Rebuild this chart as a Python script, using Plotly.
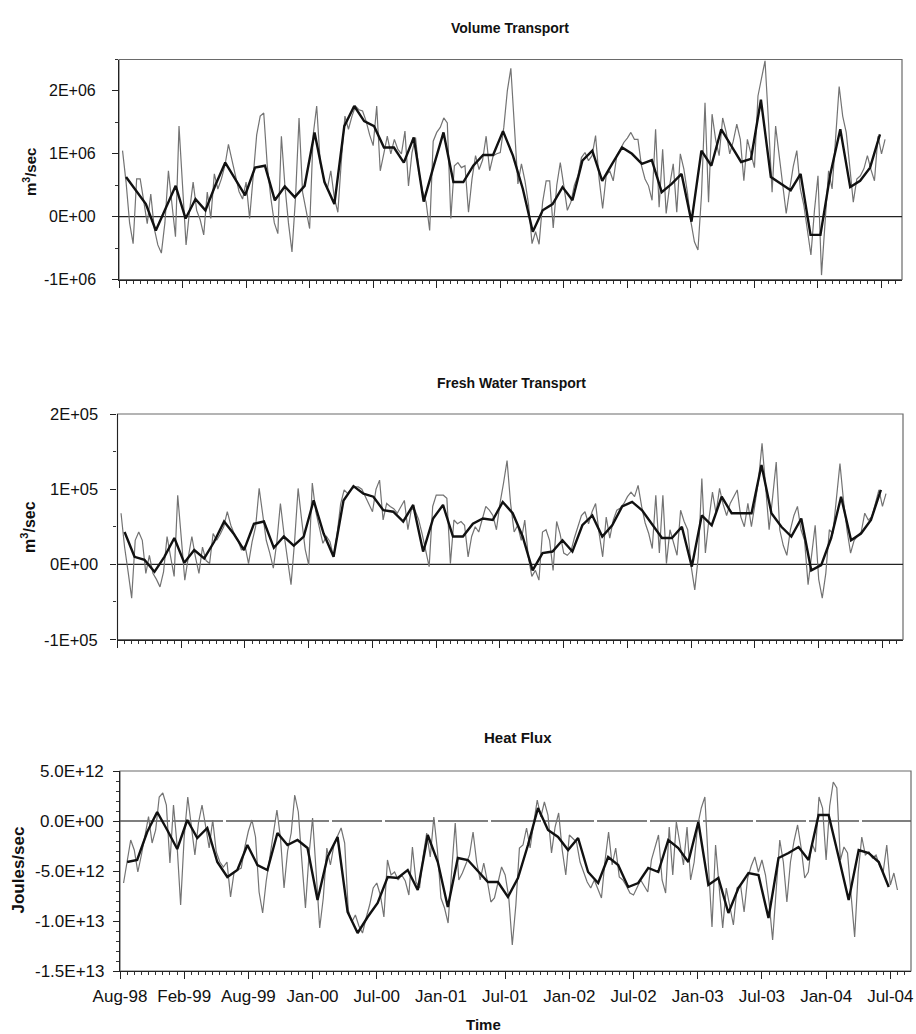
import numpy as np
import plotly.graph_objects as go

FONT = "Liberation Sans, Arial, sans-serif"

# Axis labels placed every 18 ten-day samples (about half a year)
time_labels = ["Aug-98", "Feb-99", "Aug-99", "Jan-00", "Jul-00", "Jan-01", "Jul-01",
               "Jan-02", "Jul-02", "Jan-03", "Jul-03", "Jan-04", "Jul-04"]
SAMPLES_PER_LABEL = 18

# Volume transport, 10-day samples (units of 1E6 m3/s)
volume_10day = [
    1.05, 0.55, -0.1, -0.43, 0.6, 0.6, 0.25, -0.11, 0.36, -0.19, -0.45, -0.58,
    -0.1, 0.73, 0.2, -0.32, 1.44, 0.5, -0.45, 0.1, 0.55, 0.1, -0.05, -0.29,
    0.39, -0.03, 0.68, 0.44, 0.6, 0.81, 1.15, 0.9, 0.65, 0.4, 0.28, 0.55,
    -0.03, 0.6, 1.3, 1.6, 1.65, 0.81, 0.3, -0.1, -0.27, 1.28, 0.49, -0.1,
    -0.56, 0.3, 1.57, 0.39, 0.1, -0.19, 1.3, 1.76, 0.86, 0.6, 0.44, 0.73,
    0.3, 0.07, 0.9, 1.6, 1.39, 1.6, 1.76, 1.7, 1.68, 1.52, 1.3, 1.13,
    1.76, 0.73, 1.0, 1.28, 1.0, 1.23, 1.07, 1.0, 1.36, 0.49, 1.02, 1.26,
    0.7, 0.4, 0.23, -0.22, 1.2, 1.34, 1.42, 1.57, 1.49, -0.03, 0.81, 0.86,
    0.78, 0.81, 0.07, 0.6, 0.97, 0.75, 0.9, 1.28, 0.73, 0.97, 1.0, 1.02,
    1.42, 2.0, 2.36, 1.49, 0.52, 0.84, 0.57, 0.2, -0.43, -0.24, -0.44, 0.23,
    0.57, 0.57, -0.18, 0.5, 0.86, 0.49, 0.1, 0.23, 0.5, 0.65, 0.94, 1.02,
    0.89, 0.97, 1.29, 0.6, 0.13, 0.65, 0.73, 0.57, 0.97, 1.07, 1.18, 1.25,
    1.34, 1.23, 1.23, 0.81, 0.6, 0.49, 0.26, 1.39, 0.15, 1.07, 0.05, 0.5,
    0.84, 0.07, 1.0, 0.76, 0.39, -0.08, -0.4, -0.53, 0.34, 1.81, 0.23, 1.63,
    1.23, 0.97, 1.57, 1.34, 1.0, 1.2, 1.47, 1.23, 0.57, 1.23, 1.0, 0.78,
    1.92, 2.2, 2.48, 1.49, 0.39, 1.44, 1.0, 0.49, 0.05, 0.44, 0.8, 1.05,
    0.44, 0.18, -0.2, -0.61, 0.1, 0.65, -0.93, -0.16, 0.73, 0.44, 1.2, 2.07,
    1.6, 1.34, 0.8, 0.23, 0.6, 0.65, 0.76, 0.97, 0.75, 0.57, 1.28, 1.0, 1.23,
]
# Volume transport, smoothed (units of 1E6 m3/s)
volume_smooth = [
    0.63, 0.42, 0.2, -0.22, 0.15, 0.49, -0.03, 0.28, 0.1, 0.5,
    0.86, 0.6, 0.34, 0.78, 0.81, 0.26, 0.48, 0.31, 0.49, 1.34,
    0.55, 0.2, 1.44, 1.76, 1.52, 1.44, 1.1, 1.1, 0.86, 1.26,
    0.24, 0.8, 1.34, 0.55, 0.55, 0.81, 0.98, 0.98, 1.36, 0.97,
    0.44, -0.24, 0.1, 0.2, 0.47, 0.26, 0.89, 1.05, 0.57, 0.84,
    1.1, 1.0, 0.84, 0.9, 0.39, 0.52, 0.68, -0.08, 1.05, 0.81,
    1.39, 1.13, 0.87, 0.92, 1.86, 0.63, 0.52, 0.42, 0.68, -0.29,
    -0.29, 0.68, 1.39, 0.47, 0.57, 0.78, 1.31,
]

# Fresh water transport, 10-day samples (units of 1E5 m3/s)
fresh_10day = [
    0.68, 0.23, -0.1, -0.45, 0.32, 0.43, 0.32, -0.12, 0.12, -0.12, -0.2, -0.3,
    -0.1, 0.37, 0.1, -0.16, 0.92, 0.3, -0.21, 0.1, 0.37, 0.1, -0.12, 0.23,
    0.05, 0.01, 0.41, 0.32, 0.4, 0.5, 0.7, 0.52, 0.4, 0.32, 0.19, 0.25,
    0.01, 0.3, 0.5, 1.01, 0.63, 0.32, 0.15, -0.05, 0.3, 0.81, 0.41, 0.05,
    -0.27, 0.3, 1.01, 0.59, 0.2, -0.01, 1.08, 0.7, 0.5, 0.28, 0.37, 0.3,
    0.1, 0.4, 0.8, 0.99, 0.94, 1.0, 1.03, 1.03, 1.0, 0.9, 0.8, 0.7,
    1.0, 1.12, 0.59, 0.81, 0.77, 0.74, 0.68, 0.77, 0.85, 0.46, 0.74, 0.72,
    0.6, 0.41, 0.17, -0.03, 0.77, 0.92, 0.92, 0.92, 0.88, 0.01, 0.59, 0.54,
    0.57, 0.52, 0.1, 0.37, 0.5, 0.43, 0.6, 0.77, 0.72, 0.65, 0.46, 0.81,
    1.08, 1.38, 0.81, 0.43, 0.52, 0.32, 0.59, 0.1, -0.16, -0.08, -0.21, 0.43,
    0.46, 0.32, -0.08, 0.57, 0.4, 0.15, 0.12, 0.17, 0.35, 0.5, 0.65, 0.7,
    0.54, 0.7, 0.81, 0.41, 0.1, 0.63, 0.35, 0.59, 0.72, 0.75, 0.81, 0.9,
    0.96, 0.9, 1.05, 0.77, 0.55, 0.41, 0.21, 0.92, 0.15, 0.92, 0.01, 0.46,
    0.3, 0.12, 0.72, 0.57, 0.46, -0.03, -0.34, 0.1, 1.14, 0.15, 0.6, 0.96,
    0.68, 1.01, 0.8, 0.65, 0.81, 0.9, 0.99, 0.63, 0.5, 0.81, 0.5, 0.8,
    1.12, 1.61, 1.03, 0.46, 0.9, 1.36, 0.46, 0.25, 0.12, 0.46, 0.65, 0.77,
    0.46, 0.32, -0.27, 0.1, 0.52, -0.2, -0.45, -0.12, 0.46, 0.41, 0.9, 1.34,
    0.85, 0.45, 0.15, 0.32, 0.38, 0.43, 0.68, 0.59, 0.63, 0.8, 0.99, 0.77, 0.94,
]
# Fresh water transport, smoothed (units of 1E5 m3/s)
fresh_smooth = [
    0.43, 0.1, 0.06, -0.1, 0.1, 0.35, 0.02, 0.19, 0.08, 0.3,
    0.57, 0.4, 0.19, 0.54, 0.57, 0.22, 0.37, 0.25, 0.37, 0.85,
    0.41, 0.1, 0.85, 1.04, 0.94, 0.9, 0.72, 0.7, 0.57, 0.79,
    0.17, 0.61, 0.79, 0.37, 0.37, 0.54, 0.61, 0.59, 0.83, 0.68,
    0.37, -0.08, 0.15, 0.17, 0.32, 0.17, 0.52, 0.65, 0.37, 0.52,
    0.77, 0.83, 0.72, 0.54, 0.35, 0.35, 0.5, -0.03, 0.65, 0.52,
    0.9, 0.68, 0.68, 0.68, 1.32, 0.68, 0.5, 0.37, 0.61, -0.08,
    -0.01, 0.35, 0.9, 0.32, 0.41, 0.59, 0.99,
]

# Heat flux, 10-day samples (units of 1E12 J/s)
heat_10day = [
    -6.2, -4.1, -1.9, -2.9, -5.1, -3.4, -1.4, 0.43, -2.2, -0.9, 2.4, 2.8,
    1.6, -4.2, 1.6, -2.4, -8.4, -1.6, 2.4, -0.5, -3.4, -0.2, 1.6, -0.5,
    -2.7, 0.1, -3.1, -4.1, -4.6, -4.1, -7.6, -5.1, -4.9, -4.7, -2.6, -1.0,
    0.1, -1.6, -7.1, -9.2, -6.0, -3.7, -1.4, 1.1, -1.7, -6.7, -3.0, -1.2,
    2.6, 0.9, -4.0, -8.7, -3.4, 0.3, -5.1, -10.7, -7.7, -2.7, -4.4, -2.4,
    -1.5, -0.7, -2.2, -8.9, -10.1, -9.4, -10.5, -11.2, -9.7, -8.4, -6.7, -6.2,
    -7.4, -9.6, -3.9, -5.4, -5.1, -5.9, -5.4, -6.0, -7.4, -2.6, -6.1, -6.7,
    -3.5, -1.2, -3.6, 0.4, -2.9, -7.7, -8.7, -10.2, -5.0, -0.2, -5.9, -5.2,
    -4.3, -3.4, -1.1, -4.1, -5.9, -4.2, -6.0, -8.1, -7.7, -6.0, -4.6, -5.4,
    -7.6, -12.4, -8.4, -2.7, -2.4, -0.7, -2.7, -0.2, 2.1, 0.4, 1.9, 0.6,
    -3.2, -0.6, 0.8, -2.9, -5.4, -1.4, -1.8, -2.1, -4.1, -5.0, -6.1, -6.7,
    -5.9, -6.8, -7.7, -4.0, -1.1, -4.4, -2.7, -5.6, -5.9, -6.5, -7.2, -7.4,
    -6.7, -5.9, -6.5, -7.1, -3.9, -2.6, -1.4, -5.9, -7.2, -0.6, -5.4, -0.1,
    -2.5, -4.4, -0.6, -5.9, -4.1, -0.4, 1.3, 2.4, -4.4, -10.6, -2.4, -6.4,
    -10.7, -6.7, -8.5, -10.4, -6.7, -6.4, -9.1, -5.7, -4.5, -3.6, -5.1, -3.9,
    -5.4, -8.1, -11.9, -6.7, -1.9, -4.1, -8.1, -4.1, -2.0, -0.4, -2.7, -5.7,
    -5.1, -2.2, -3.1, 2.4, 1.3, -3.9, 1.5, 3.9, 3.3, -3.9, -2.6, -3.2,
    -7.7, -11.6, -5.1, -1.6, -3.4, -3.1, -3.7, -3.4, -4.5, -5.1, -2.4, -6.4, -5.2, -6.9,
]
# Heat flux, smoothed (units of 1E12 J/s)
heat_smooth = [
    -4.1, -3.9, -1.1, 0.9, -0.9, -2.8, 0.1, -1.7, -0.7, -4.1,
    -5.6, -4.9, -2.4, -4.4, -4.9, -1.2, -2.4, -1.9, -2.7, -7.9,
    -3.6, -1.6, -9.1, -11.2, -9.6, -8.2, -5.6, -5.7, -4.9, -6.9,
    -1.4, -4.1, -8.6, -3.7, -3.9, -5.0, -6.1, -6.1, -7.6, -5.7,
    -2.4, 1.3, -0.9, -1.6, -2.9, -1.7, -5.1, -6.2, -3.6, -4.4,
    -6.6, -6.2, -4.7, -5.1, -1.9, -2.7, -4.1, -0.1, -6.4, -5.7,
    -9.2, -6.7, -5.2, -5.4, -9.7, -3.7, -3.2, -2.6, -3.9, 0.6,
    0.6, -3.6, -7.9, -2.9, -3.2, -4.1, -6.6,
]

# Smoothed series sits on a slightly coarser grid than every third sample
SMOOTH_START, SMOOTH_STEP = 2.0, 2.81
X_MAX = 221.8

W, H = 916, 1034


def px_x(v):
    return v / W


def px_y(v):
    return 1 - v / H


panels = [
    dict(thin=volume_10day, smooth=volume_smooth, scale=1e6,
         xdom=(119, 902), ydom=(59.5, 279.5), yrange=(-1e6, 2.5e6),
         yticks=[-1e6, 0, 1e6, 2e6], ytext=["-1E+06", "0E+00", "1E+06", "2E+06"],
         yminor=5e5, zero_dash="solid", zero_color="#222",
         label_size=16, label_right=98,
         title="Volume Transport", title_xy=(510, 28), title_size=14,
         ytitle="m<sup>3</sup>/sec", ytitle_xy=(30, 172), ytitle_size=15,
         labels=False),
    dict(thin=fresh_10day, smooth=fresh_smooth, scale=1e5,
         xdom=(117.5, 903), ydom=(414, 639.5), yrange=(-1e5, 2e5),
         yticks=[-1e5, 0, 1e5, 2e5], ytext=["-1E+05", "0E+00", "1E+05", "2E+05"],
         yminor=5e4, zero_dash="solid", zero_color="#222",
         label_size=16.5, label_right=100,
         title="Fresh Water Transport", title_xy=(511, 383), title_size=14,
         ytitle="m<sup>3</sup>/sec", ytitle_xy=(28, 527), ytitle_size=16,
         labels=False),
    dict(thin=heat_10day, smooth=heat_smooth, scale=1e12,
         xdom=(120, 911), ydom=(771, 971), yrange=(-1.5e13, 5e12),
         yticks=[-1.5e13, -1e13, -5e12, 0, 5e12],
         ytext=["-1.5E+13", "-1.0E+13", "-5.0E+12", "0.0E+00", "5.0E+12"],
         yminor=1e12, zero_dash="50px,3px", zero_color="#555",
         label_size=17, label_right=106,
         title="Heat Flux", title_xy=(518, 737), title_size=15,
         ytitle="Joules/sec", ytitle_xy=(17.5, 870), ytitle_size=17,
         labels=True),
]

fig = go.Figure()
annotations = []
shapes = []
label_vals = [SAMPLES_PER_LABEL * i for i in range(len(time_labels))]

for i, p in enumerate(panels, start=1):
    sx = "" if i == 1 else str(i)
    xref, yref = "x" + sx, "y" + sx

    x_thin = np.arange(1, len(p["thin"]) + 1)
    x_smooth = SMOOTH_START + SMOOTH_STEP * np.arange(len(p["smooth"]))

    fig.add_trace(go.Scatter(
        x=x_thin, y=np.array(p["thin"]) * p["scale"], mode="lines",
        line=dict(color="#737373", width=1.2), xaxis=xref, yaxis=yref,
        hoverinfo="skip"))
    fig.add_trace(go.Scatter(
        x=x_smooth, y=np.array(p["smooth"]) * p["scale"], mode="lines",
        line=dict(color="#111111", width=2.4), xaxis=xref, yaxis=yref,
        hoverinfo="skip"))

    xaxis = dict(
        domain=[px_x(p["xdom"][0]), px_x(p["xdom"][1])],
        range=[0, X_MAX], anchor=yref, automargin=False,
        tickmode="array", tickvals=label_vals,
        ticks="outside", ticklen=7, tickwidth=1, tickcolor="#222",
        minor=dict(tickmode="linear", tick0=0, dtick=2, ticks="outside",
                   ticklen=3, tickcolor="#333", tickwidth=1, showgrid=False),
        showline=True, linecolor="#222", linewidth=1.2,
        showgrid=False, zeroline=False,
        tickfont=dict(family=FONT, size=17, color="#111"),
    )
    if p["labels"]:
        xaxis.update(ticktext=time_labels, showticklabels=True,
                     ticklabelstandoff=2)
    else:
        xaxis.update(showticklabels=False)

    fig.update_layout({
        "xaxis" + sx: xaxis,
        "yaxis" + sx: dict(
            domain=[px_y(p["ydom"][1]), px_y(p["ydom"][0])],
            range=list(p["yrange"]), anchor=xref, automargin=False,
            tickmode="array", tickvals=p["yticks"], showticklabels=False,
            ticks="outside", ticklen=6, tickwidth=1, tickcolor="#222",
            minor=dict(tickmode="linear", tick0=0, dtick=p["yminor"],
                       ticks="outside", ticklen=3, tickcolor="#333",
                       tickwidth=1, showgrid=False),
            showline=True, linecolor="#222", linewidth=1.2,
            showgrid=False, zeroline=False,
        ),
    })

    # value labels beside the y axis, right-aligned to a fixed column
    for v, t in zip(p["yticks"], p["ytext"]):
        annotations.append(dict(
            text=t, xref="paper", yref=yref, x=px_x(p["label_right"]), y=v,
            xanchor="right", yanchor="middle", showarrow=False,
            font=dict(family=FONT, size=p["label_size"], color="#111")))

    # plot-area frame
    shapes.append(dict(type="rect", xref=xref + " domain", yref=yref + " domain",
                       x0=0, x1=1, y0=0, y1=1, layer="below",
                       line=dict(color="#6a6a6a", width=1.2)))
    # zero reference line
    shapes.append(dict(type="line", xref=xref, yref=yref, x0=0, x1=X_MAX,
                       y0=0, y1=0, layer="below",
                       line=dict(color=p["zero_color"], width=1.3,
                                 dash=p["zero_dash"])))

    annotations.append(dict(
        text="<b>%s</b>" % p["title"], xref="paper", yref="paper",
        x=px_x(p["title_xy"][0]), y=px_y(p["title_xy"][1]),
        xanchor="center", yanchor="middle", showarrow=False,
        font=dict(family=FONT, size=p["title_size"], color="#111")))
    annotations.append(dict(
        text="<b>%s</b>" % p["ytitle"], xref="paper", yref="paper",
        x=px_x(p["ytitle_xy"][0]), y=px_y(p["ytitle_xy"][1]),
        xanchor="center", yanchor="middle", textangle=-90, showarrow=False,
        font=dict(family=FONT, size=p["ytitle_size"], color="#111")))

annotations.append(dict(
    text="<b>Time</b>", xref="paper", yref="paper",
    x=px_x(483), y=px_y(1024), xanchor="center", yanchor="middle",
    showarrow=False, font=dict(family=FONT, size=15, color="#111")))

fig.update_layout(
    width=W, height=H, margin=dict(l=0, r=0, t=0, b=0, autoexpand=False),
    paper_bgcolor="white", plot_bgcolor="white", showlegend=False,
    annotations=annotations, shapes=shapes,
    font=dict(family=FONT, color="#111"),
)

fig.write_html("out.html")
